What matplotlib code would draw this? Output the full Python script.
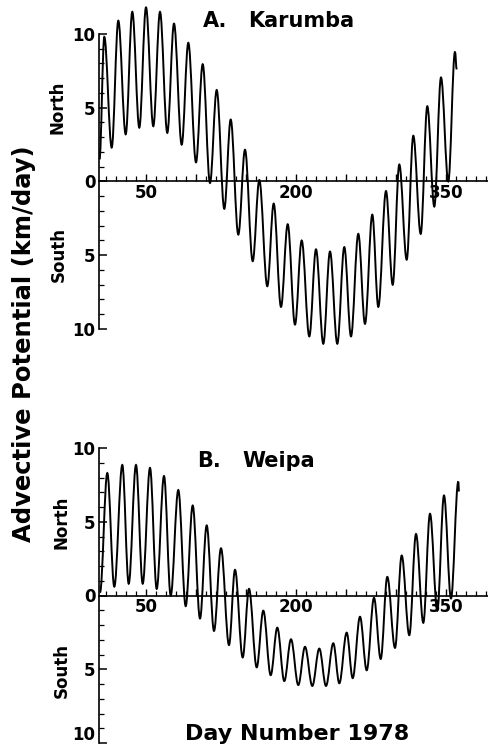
import matplotlib
matplotlib.use('Agg')
import matplotlib.pyplot as plt
from matplotlib.path import Path
from matplotlib.patches import PathPatch
from matplotlib.ticker import MultipleLocator, FixedLocator, FuncFormatter

# ---------------- data (extrema) ----------------
karumba_days = [3.5, 8.3, 15.7, 22.3, 29.7, 36.3, 43.3, 50.0, 57.3, 64.0, 71.3, 78.0, 85.7,
                92.3, 100.0, 106.7, 114.0, 120.7, 128.3, 134.7, 142.3, 149.0, 156.7, 163.3,
                171.3, 177.7, 185.0, 191.7, 199.0, 205.7, 213.3, 220.0, 227.3, 234.0, 241.3,
                248.3, 255.0, 262.3, 269.0, 276.3, 282.3, 290.0, 296.7, 303.3, 310.7, 317.3,
                324.7, 331.3, 338.3, 345.0, 352.3, 359.0, 360.7]
karumba_vals = [1.5, 9.8, 2.3, 10.9, 3.2, 11.5, 3.65, 11.8, 3.75, 11.5, 3.3, 10.7, 2.5,
                9.4, 1.3, 7.95, -0.1, 6.2, -1.85, 4.2, -3.6, 2.15, -5.4, 0.1,
                -7.1, -1.5, -8.5, -2.9, -9.7, -4.0, -10.5, -4.6, -11.0, -4.75, -11.0,
                -4.45, -10.5, -3.55, -9.65, -2.25, -8.5, -0.65, -7.0, 1.15, -5.3, 3.1,
                -3.55, 5.1, -1.7, 7.05, 0.0, 8.8, 7.6]

weipa_days = [4.0, 11.3, 18.3, 26.3, 32.7, 40.0, 46.7, 54.0, 60.7, 68.0, 74.7, 82.3, 89.7,
              96.7, 104.0, 110.7, 118.0, 125.0, 133.0, 139.0, 146.7, 153.0, 160.7, 167.3,
              174.7, 181.3, 188.3, 195.0, 202.3, 209.0, 216.3, 223.3, 230.0, 237.3, 243.3,
              250.7, 256.7, 264.0, 270.7, 278.0, 284.7, 291.3, 299.0, 305.7, 313.3, 320.0,
              327.3, 334.0, 341.3, 348.0, 355.0, 362.3, 363.0]
weipa_vals = [0.2, 8.3, 0.6, 8.85, 0.8, 8.85, 0.8, 8.65, 0.45, 8.1, 0.0, 7.15, -0.72,
              6.1, -1.56, 4.75, -2.4, 3.2, -3.36, 1.74, -4.2, 0.45, -4.87, -1.03,
              -5.4, -2.18, -5.8, -2.97, -6.07, -3.48, -6.13, -3.6, -6.13, -3.24, -5.95,
              -2.52, -5.6, -1.44, -5.07, -0.16, -4.3, 1.26, -3.55, 2.71, -2.69, 4.17,
              -1.85, 5.54, -1.03, 6.78, -0.2, 7.72, 7.05]

x_labels = {50: '50', 200: '200', 350: '350'}
y_major = [-10, -5, 0, 5, 10]

# ---------------- figure ----------------
W, H = 489, 747
plt.rcParams['font.family'] = ['DejaVu Sans']
plt.rcParams['font.weight'] = 'bold'
fig = plt.figure(figsize=(W / 100, H / 100), dpi=100)


def px_axes(left, right, top, bottom):
    return fig.add_axes([left / W, 1 - bottom / H, (right - left) / W, (bottom - top) / H])


def smooth_path(xs, ys, k=0.36):
    verts = [(xs[0], ys[0])]
    codes = [Path.MOVETO]
    for i in range(len(xs) - 1):
        d = xs[i + 1] - xs[i]
        verts += [(xs[i] + k * d, ys[i]), (xs[i + 1] - k * d, ys[i + 1]), (xs[i + 1], ys[i + 1])]
        codes += [Path.CURVE4] * 3
    return Path(verts, codes)


def style_axes(ax, hide_bottom_label=False):
    ax.set_xlim(3.5, 393)
    ax.set_ylim(-10, 10)
    for s in ('top', 'right'):
        ax.spines[s].set_visible(False)
    ax.spines['bottom'].set_position(('data', 0))
    ax.spines['bottom'].set_linewidth(1.2)
    ax.spines['left'].set_linewidth(1.2)
    ax.xaxis.set_major_locator(FixedLocator(list(range(50, 400, 50))))
    ax.xaxis.set_minor_locator(MultipleLocator(10))
    ax.xaxis.set_major_formatter(FuncFormatter(lambda v, p: x_labels.get(int(round(v)), '')))
    ax.yaxis.set_major_locator(FixedLocator(y_major))
    ax.yaxis.set_minor_locator(MultipleLocator(1))

    def yfmt(v, p):
        iv = int(round(v))
        if hide_bottom_label and iv == -10:
            return ''
        return f"{abs(iv)}"
    ax.yaxis.set_major_formatter(FuncFormatter(yfmt))
    ax.tick_params(axis='x', which='major', direction='in', length=5, width=1.0, pad=2,
                   labelsize=12)
    ax.tick_params(axis='x', which='minor', direction='in', length=3.5, width=0.9)
    ax.tick_params(axis='y', which='major', direction='in', length=6, width=1.1, pad=3,
                   labelsize=12)
    ax.tick_params(axis='y', which='minor', direction='in', length=3.5, width=0.9)
    for lab in ax.get_xticklabels() + ax.get_yticklabels():
        lab.set_fontweight('bold')
    ax.patch.set_visible(False)


axA = px_axes(99.5, 489, 34, 329)
style_axes(axA)
axA.add_patch(PathPatch(smooth_path(karumba_days, karumba_vals), fill=False,
                        lw=1.4, color='black', clip_on=False))

axB = px_axes(99.5, 489, 448, 743)
style_axes(axB, hide_bottom_label=True)
axB.add_patch(PathPatch(smooth_path(weipa_days, weipa_vals), fill=False,
                        lw=1.4, color='black', clip_on=False))


def ftext(x, y, s, **kw):
    fig.text(x / W, 1 - y / H, s, **kw)


# bottom "10" of panel B sits just above the axis end (image edge)
ftext(95, 735, '10', fontsize=12, ha='right', va='center', weight='bold')

ftext(203, 27, 'A.', fontsize=15, ha='left', va='baseline', weight='bold')
ftext(248, 27, 'Karumba', fontsize=15, ha='left', va='baseline', weight='bold')
ftext(197, 467, 'B.', fontsize=15, ha='left', va='baseline', weight='bold')
ftext(242, 467, 'Weipa', fontsize=15, ha='left', va='baseline', weight='bold')

ftext(58, 107, 'North', rotation=90, fontsize=12, ha='center', va='center', weight='bold')
ftext(59, 255, 'South', rotation=90, fontsize=12, ha='center', va='center', weight='bold')
ftext(62, 522, 'North', rotation=90, fontsize=12, ha='center', va='center', weight='bold')
ftext(62, 670, 'South', rotation=90, fontsize=12, ha='center', va='center', weight='bold')

ftext(24, 344, 'Advective Potential (km/day)', rotation=90, fontsize=17.5,
      ha='center', va='center', weight='bold')
ftext(297, 740, 'Day Number 1978', fontsize=16, ha='center', va='baseline', weight='bold')

fig.savefig('out.png', dpi=100)
